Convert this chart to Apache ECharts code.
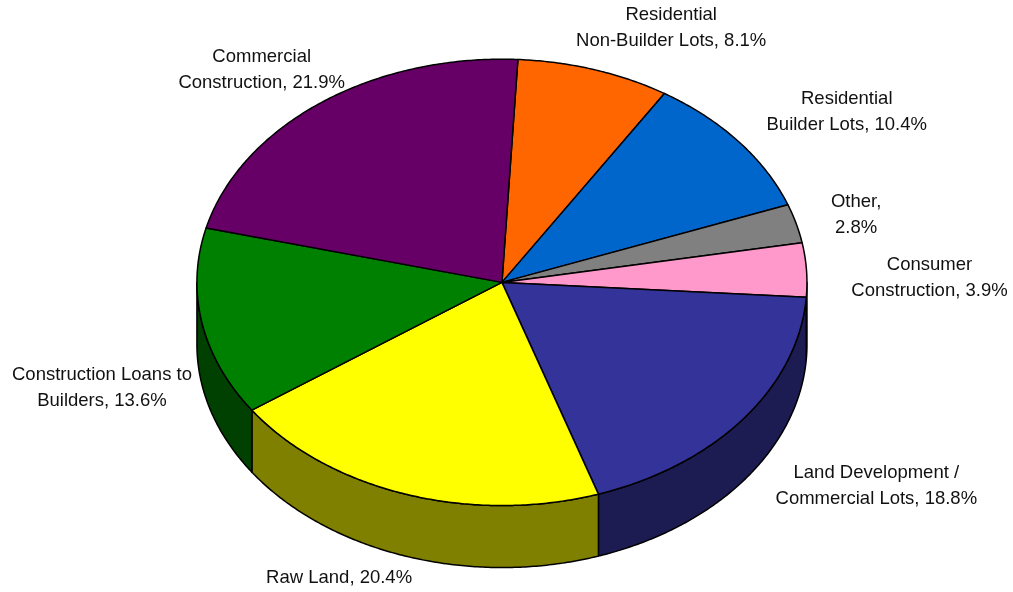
<!DOCTYPE html>
<html><head><meta charset="utf-8">
<script src="https://cdn.jsdelivr.net/npm/echarts@6/dist/echarts.min.js"></script>
<style>html,body{margin:0;padding:0;background:#fff}#c{width:1013px;height:592px}</style>
</head><body><div id="c"></div>
<script>
// ---- data ----
const categories = ['Residential\nNon-Builder Lots', 'Residential\nBuilder Lots', 'Other', 'Consumer\nConstruction', 'Land Development /\nCommercial Lots', 'Raw Land', 'Construction Loans to\nBuilders', 'Commercial\nConstruction'];
const values = [8.1, 10.4, 2.8, 3.9, 18.8, 20.4, 13.6, 21.9];

// ---- style / layout ----
const topColors  = ['#FF6600', '#0066CC', '#808080', '#FF99CC', '#333399', '#FFFF00', '#008000', '#660066'];
const sideColors = ['#803300', '#003366', '#404040', '#804C66', '#1C1C52', '#808000', '#004000', '#330033'];
const labelBreak = [false, false, true, false, false, false, false, false];
const labelNudge = [[77, -42], [108, -30], [60, -9], [123, 8], [133, 5], [-67, 22], [-100, 3], [-59, -33]];
const startAngle = 3;

const total = values.reduce((a, b) => a + b, 0);
const angles = [];
let acc = startAngle;
values.forEach(v => { const d = v / total * 360; angles.push([acc, acc + d]); acc += d; });

function renderItem(params, api) {
  const i = params.dataIndex;
  const W = api.getWidth(), H = api.getHeight();
  const cx = W * 0.4955, cy = H * 0.477, rx = W * 0.3011, ry = H * 0.377, depth = H * 0.1047;
  const s = angles[i][0], e = angles[i][1];
  const pt = (a, dy) => { const r = a * Math.PI / 180; return [cx + rx * Math.sin(r), cy - ry * Math.cos(r) + (dy || 0)]; };
  const children = [];
  const fs = Math.max(s, 90), fe = Math.min(e, 270);
  if (fe > fs) {
    const pts = [];
    for (let a = fs; a < fe; a += 0.5) pts.push(pt(a));
    pts.push(pt(fe));
    pts.push(pt(fe, depth));
    for (let a = fe - 0.5; a > fs; a -= 0.5) pts.push(pt(a, depth));
    pts.push(pt(fs, depth));
    children.push({ type: 'polygon', z2: 1, shape: { points: pts },
      style: { fill: sideColors[i], stroke: '#000', lineWidth: 1.5, lineJoin: 'round' } });
  }
  const tp = [[cx, cy]];
  for (let a = s; a < e; a += 0.5) tp.push(pt(a));
  tp.push(pt(e));
  children.push({ type: 'polygon', z2: 2, shape: { points: tp },
    style: { fill: topColors[i], stroke: '#000', lineWidth: 1.5, lineJoin: 'round' } });
  const mid = (s + e) / 2;
  const E = pt(mid, Math.cos(mid * Math.PI / 180) < 0 ? depth : 0);
  const txt = categories[i] + ',' + (labelBreak[i] ? '\n' : ' ') + values[i].toFixed(1) + '%';
  children.push({ type: 'text', z2: 3, style: {
    x: E[0] + labelNudge[i][0], y: E[1] + labelNudge[i][1], text: txt,
    align: 'center', verticalAlign: 'middle', fill: '#111',
    font: '18.5px "Liberation Sans", Arial, sans-serif', lineHeight: 26 } });
  return { type: 'group', children };
}

const chart = echarts.init(document.getElementById('c'), null, { renderer: 'canvas' });
chart.setOption({
  backgroundColor: '#fff',
  animation: false,
  series: [{
    type: 'custom',
    coordinateSystem: 'none',
    silent: true,
    renderItem: renderItem,
    data: values.map((v, i) => ({ name: categories[i], value: v }))
  }]
});
</script>
</body></html>
